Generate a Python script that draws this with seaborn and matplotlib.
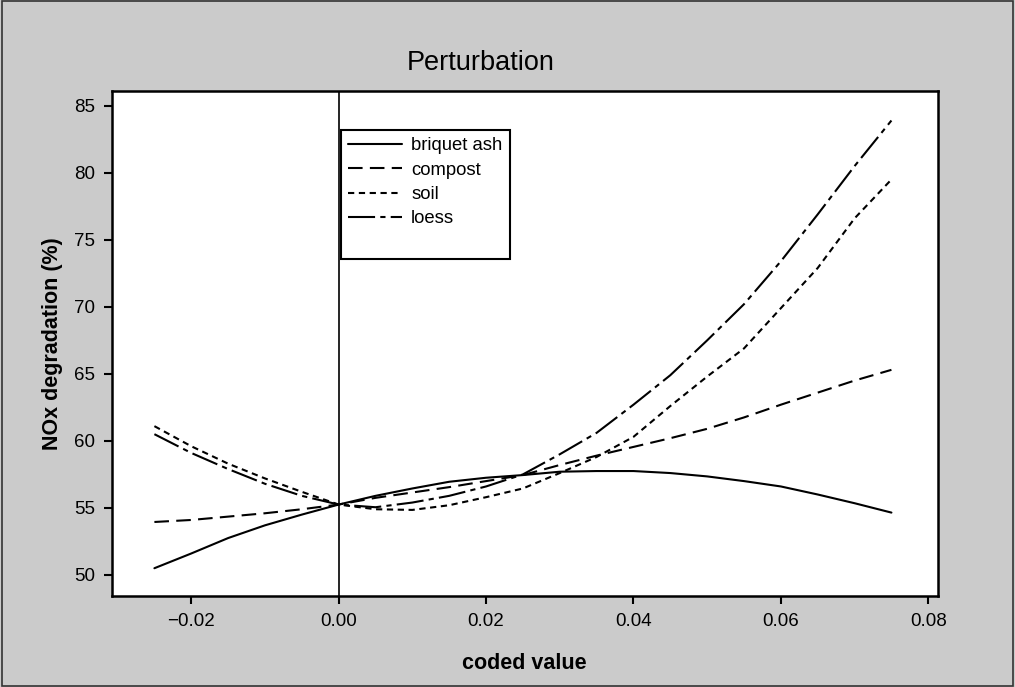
import numpy as np
import pandas as pd
import seaborn as sns
import matplotlib
matplotlib.use('Agg')
import matplotlib.pyplot as plt
from matplotlib.lines import Line2D
from matplotlib.patches import Rectangle
from matplotlib.ticker import FuncFormatter

# coded value (deviation from reference point)
coded = [-0.025, -0.020, -0.015, -0.010, -0.005, 0.000, 0.005, 0.010, 0.015, 0.020, 0.025,
         0.030, 0.035, 0.040, 0.045, 0.050, 0.055, 0.060, 0.065, 0.070, 0.075]

# NOx degradation (%)
briquet_ash = [50.5, 51.6, 52.75, 53.7, 54.5, 55.25, 55.9, 56.45, 56.95, 57.25, 57.45,
               57.7, 57.75, 57.75, 57.6, 57.35, 57.0, 56.6, 56.0, 55.35, 54.65]
compost = [53.95, 54.1, 54.35, 54.6, 54.9, 55.25, 55.75, 56.15, 56.55, 57.0, 57.45,
           58.2, 58.9, 59.55, 60.2, 60.9, 61.75, 62.7, 63.6, 64.5, 65.3]
soil = [61.1, 59.6, 58.3, 57.2, 56.2, 55.25, 54.9, 54.85, 55.2, 55.8, 56.45,
        57.6, 58.8, 60.3, 62.6, 64.8, 66.9, 69.9, 72.9, 76.6, 79.5]
loess = [60.5, 59.1, 57.9, 56.8, 55.9, 55.25, 55.05, 55.4, 55.9, 56.6, 57.5,
         59.0, 60.6, 62.7, 64.9, 67.5, 70.2, 73.4, 76.9, 80.5, 83.9]

series_names = ['briquet ash', 'compost', 'soil', 'loess']
x_ticks = [-0.02, 0.00, 0.02, 0.04, 0.06, 0.08]
y_ticks = [50, 55, 60, 65, 70, 75, 80, 85]

#build long table for seaborn
df = pd.concat([
    pd.DataFrame({'coded value': coded, 'NOx': vals, 'factor': name})
    for name, vals in zip(series_names, [briquet_ash, compost, soil, loess])
])

sns.set_theme(style='ticks')
plt.rcParams['font.family'] = ['Liberation Sans', 'DejaVu Sans']
plt.rcParams['text.color'] = 'black'

bg = '#cbcbcb'
fig = plt.figure(figsize=(10.15, 6.87), dpi=100, facecolor=bg)
ax = fig.add_axes([0.110, 0.1325, 0.814, 0.735])
ax.set_facecolor('white')

dash_map = {'briquet ash': '', 'compost': (7, 3.5), 'soil': (3, 2.2), 'loess': (13, 2.5, 2.5, 2.5)}
sns.lineplot(data=df, x='coded value', y='NOx', style='factor', style_order=series_names,
             dashes=dash_map, color='black', linewidth=1.5, ax=ax, legend=True)

# reference line at the centre point
ax.axvline(0, color='black', linewidth=1.2)

ax.set_xlim(-0.0308, 0.0813)
ax.set_ylim(48.43, 86.1)
ax.set_xticks(x_ticks)
ax.set_yticks(y_ticks)
ax.xaxis.set_major_formatter(FuncFormatter(lambda v, p: ('%.2f' % v).replace('-', '\u2212')))
ax.tick_params(direction='out', length=6, width=1.5, labelsize=13.5, colors='black', pad=6)
for s in ax.spines.values():
    s.set_linewidth(1.8)
    s.set_color('black')
    s.set_visible(True)

ax.set_xlabel('coded value', fontsize=15.5, fontweight='bold', labelpad=17, color='black')
ax.set_ylabel('NOx degradation (%)', fontsize=15.5, fontweight='bold', labelpad=8, color='black')
fig.text(0.474, 0.908, 'Perturbation', ha='center', va='center', fontsize=19.5, color='black')

handles, labels = ax.get_legend_handles_labels()
handles = list(handles) + [Line2D([], [], color='none')]
labels = list(labels) + ['']
leg = ax.legend(handles=handles, labels=labels, loc='upper left',
                bbox_to_anchor=(0.336, 0.811), bbox_transform=fig.transFigure,
                borderaxespad=0, fontsize=13.3, handlelength=2.9, handletextpad=0.5,
                labelspacing=0.4, borderpad=0.4, fancybox=False, framealpha=1,
                edgecolor='black')
leg.get_frame().set_linewidth(1.5)

#thin frame round the whole picture
fig.patches.append(Rectangle((0.002, 0.002), 0.996, 0.996, transform=fig.transFigure,
                             fill=False, edgecolor='#333333', linewidth=1.2))

fig.savefig('out.png', dpi=100, facecolor=bg)
